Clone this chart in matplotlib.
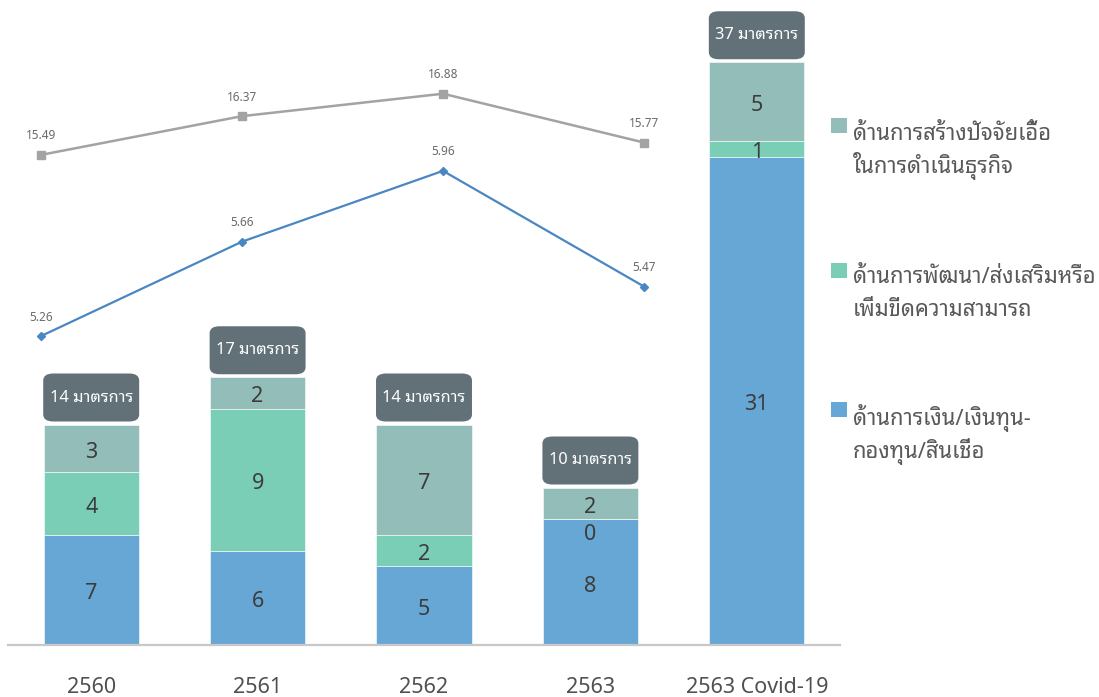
import numpy as np
import matplotlib
matplotlib.use("Agg")
import matplotlib.pyplot as plt
from matplotlib.patches import FancyBboxPatch, Rectangle

THAI_FONT = ["Noto Sans Thai Looped", "DejaVu Sans"]
plt.rcParams["font.family"] = THAI_FONT

# ----- data -----
years = ["2560", "2561", "2562", "2563", "2563 Covid-19"]
finance = [7, 6, 5, 8, 31]        # ด้านการเงิน/เงินทุน-กองทุน/สินเชื่อ
capability = [4, 9, 2, 0, 1]      # ด้านการพัฒนา/ส่งเสริมหรือเพิ่มขีดความสามารถ
environment = [3, 2, 7, 2, 5]     # ด้านการสร้างปัจจัยเอื้อในการดำเนินธุรกิจ
totals = [14, 17, 14, 10, 37]

line_gray = [15.49, 16.37, 16.88, 15.77]
line_blue = [5.26, 5.66, 5.96, 5.47]

legend_labels = [
    ("ด้านการสร้างปัจจัยเอื้อ", "ในการดำเนินธุรกิจ"),
    ("ด้านการพัฒนา/ส่งเสริมหรือ", "เพิ่มขีดความสามารถ"),
    ("ด้านการเงิน/เงินทุน-", "กองทุน/สินเชื่อ"),
]

C_FIN = "#67A7D6"
C_CAP = "#7ACEB5"
C_ENV = "#93BDB8"
C_BOX = "#627178"
C_TXT = "#3C3C3C"

W, H = 1099, 697
fig = plt.figure(figsize=(W / 100, H / 100), dpi=100)

# axes area in pixels: x 8..840, baseline at y=645 (from top)
ax_l, ax_r, ax_base = 8, 840, 645
rect = [ax_l / W, (H - ax_base) / H, (ax_r - ax_l) / W, ax_base / H]
ax = fig.add_axes(rect)
px_per_unit = 15.75
ax.set_xlim(-0.5, 4.5)
ax.set_ylim(0, ax_base / px_per_unit)

x = np.arange(len(years))
bw = 0.571
b1 = np.array(finance)
b2 = b1 + np.array(capability)
ax.bar(x, finance, bw, color=C_FIN, edgecolor="white", linewidth=0.4, zorder=2)
ax.bar(x, capability, bw, bottom=b1, color=C_CAP, edgecolor="white", linewidth=0.4, zorder=2)
ax.bar(x, environment, bw, bottom=b2, color=C_ENV, edgecolor="white", linewidth=0.4, zorder=2)

shift = 4 / px_per_unit
for i in range(len(years)):
    segs = [(finance[i], 0), (capability[i], b1[i]), (environment[i], b2[i])]
    for val, bot in segs:
        yc = bot + val / 2 - shift
        if val == 0:
            # empty segment: label sits just under the boundary
            yc = bot - 1.0
        ax.text(x[i], yc, str(val), ha="center", va="center", fontsize=15.5,
                color=C_TXT, zorder=4)

    # rounded total box above each bar
    top = b2[i] + environment[i]
    pad_units = 3 / px_per_unit
    box_h = 48 / px_per_unit
    box_w = bw * 1.01
    box = FancyBboxPatch((x[i] - box_w / 2, top + pad_units), box_w, box_h,
                         boxstyle="round,pad=0,rounding_size=0.06",
                         mutation_aspect=1 / 0.06 * (7 / px_per_unit),
                         facecolor=C_BOX, edgecolor="none", zorder=3,
                         clip_on=False)
    ax.add_patch(box)
    ax.text(x[i], top + pad_units + box_h / 2, f"{totals[i]} มาตรการ",
            ha="center", va="center", fontsize=11.8, color="white", zorder=4)

ax.set_xticks(x)
ax.set_xticklabels(years, fontsize=15.5, color="#505050")
ax.tick_params(axis="x", length=0, pad=23)
ax.set_yticks([])
for s in ["top", "right", "left"]:
    ax.spines[s].set_visible(False)
ax.spines["bottom"].set_color("#C8C8C8")
ax.spines["bottom"].set_linewidth(1.6)

# ----- line series on their own hidden scales -----
lx = np.arange(len(line_gray))
xl = ((ax_l - 41) / 201, (ax_r - 41) / 201)

axg = fig.add_axes(rect, frameon=False)
axg.set_xlim(*xl)
axg.set_ylim(4.35, 19.01)
axg.plot(lx, line_gray, color="#A3A3A3", lw=1.8, marker="s", ms=6,
         mfc="#A3A3A3", mec="#A3A3A3", zorder=3)
for xi, v in zip(lx, line_gray):
    axg.annotate(f"{v:.2f}", (xi, v), xytext=(0, 9), textcoords="offset points",
                 ha="center", va="bottom", fontsize=8.5, color="#6A6A6A")
axg.axis("off")

axb = fig.add_axes(rect, frameon=False)
axb.set_xlim(*xl)
axb.set_ylim(3.951, 6.684)
axb.plot(lx, line_blue, color="#4A87C2", lw=1.6, marker="D", ms=4,
         mfc="#4A87C2", mec="#4A87C2", zorder=3)
for xi, v in zip(lx, line_blue):
    axb.annotate(f"{v:.2f}", (xi, v), xytext=(0, 9), textcoords="offset points",
                 ha="center", va="bottom", fontsize=8.5, color="#6A6A6A")
axb.axis("off")

# ----- legend (two text lines per entry, placed on fixed baselines) -----
leg_colors = [C_ENV, C_CAP, C_FIN]
sq_top = [118, 263, 402]
base_first = [140, 283, 425]
line_gap = 33
for (l1, l2), col, sq, bl in zip(legend_labels, leg_colors, sq_top, base_first):
    fig.patches.append(Rectangle((831 / W, 1 - (sq + 15) / H), 16 / W, 15 / H,
                                 transform=fig.transFigure, facecolor=col,
                                 edgecolor="none"))
    for k, txt in enumerate((l1, l2)):
        fig.text(853 / W, 1 - (bl + k * line_gap) / H, txt, ha="left",
                 va="baseline", fontsize=15.8, color="#595959")

fig.savefig("out.png", dpi=100)
